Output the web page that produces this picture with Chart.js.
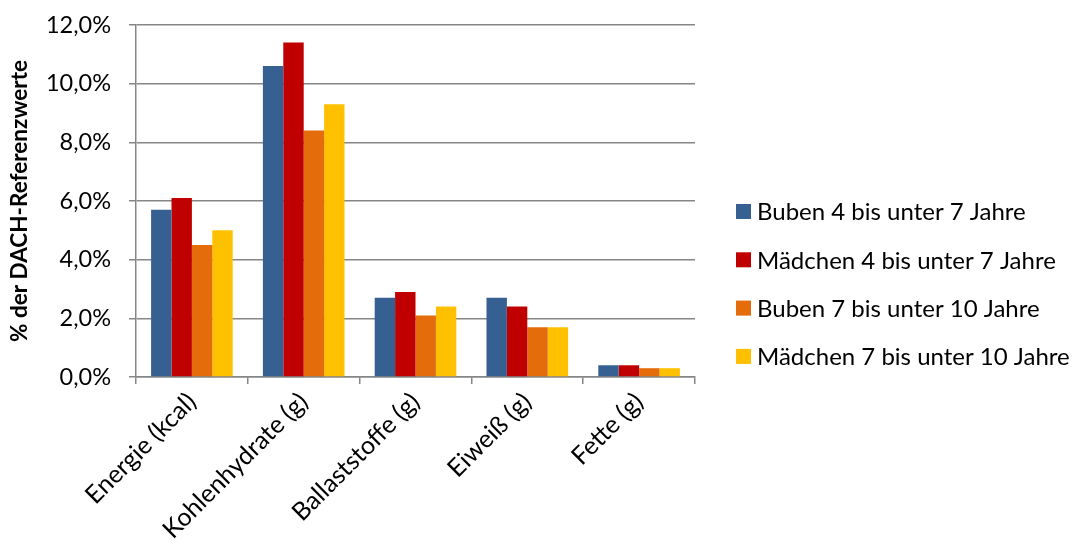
<!DOCTYPE html>
<html>
<head>
<meta charset="utf-8">
<script src="https://cdn.jsdelivr.net/npm/chart.js@4/dist/chart.umd.min.js"></script>
<style>
  html, body { margin: 0; padding: 0; background: #fff; }
  #wrap { width: 1082px; height: 547px; }
</style>
</head>
<body>
<div id="wrap"><canvas id="chart" width="1082" height="547"></canvas></div>
<script>
const categories = ["Energie (kcal)", "Kohlenhydrate (g)", "Ballaststoffe (g)", "Eiweiß (g)", "Fette (g)"];
const seriesNames = [
  "Buben 4 bis unter 7 Jahre",
  "Mädchen 4 bis unter 7 Jahre",
  "Buben 7 bis unter 10 Jahre",
  "Mädchen 7 bis unter 10 Jahre"
];
const buben4 = [5.7, 10.6, 2.7, 2.7, 0.4];
const maedchen4 = [6.1, 11.4, 2.9, 2.4, 0.4];
const buben7 = [4.5, 8.4, 2.1, 1.7, 0.3];
const maedchen7 = [5.0, 9.3, 2.4, 1.7, 0.3];
const colors = ["#376092", "#C00000", "#E46C0A", "#FFC000"];

const FONT = "Lato, Calibri, 'Open Sans', sans-serif";

// legend drawn by hand so it can sit where the original has it
const sideLegend = {
  id: "sideLegend",
  afterDraw(chart) {
    const ctx = chart.ctx;
    ctx.save();
    ctx.font = "24px " + FONT;
    ctx.textBaseline = "middle";
    ctx.textAlign = "left";
    chart.data.datasets.forEach((ds, i) => {
      const cy = 211.5 + i * 48.3;
      ctx.fillStyle = ds.backgroundColor;
      ctx.fillRect(736, cy - 7.5, 15, 15);
      ctx.fillStyle = "#000";
      ctx.fillText(ds.label, 757, cy + 1);
    });
    ctx.restore();
  }
};

new Chart(document.getElementById("chart"), {
  type: "bar",
  data: {
    labels: categories,
    datasets: [buben4, maedchen4, buben7, maedchen7].map((vals, i) => ({
      label: seriesNames[i],
      data: vals,
      backgroundColor: colors[i],
      borderWidth: 0,
      categoryPercentage: 0.73,
      barPercentage: 1.0
    }))
  },
  options: {
    responsive: false,
    animation: false,
    layout: { padding: { top: 25, right: 1082 - 695, left: 0, bottom: 0 } },
    plugins: {
      legend: { display: false },
      tooltip: { enabled: false }
    },
    scales: {
      x: {
        afterFit(scale) { scale.height = 547 - 377; },
        grid: {
          display: true,
          offset: true,
          drawOnChartArea: false,
          color: "#868686",
          lineWidth: 1.5,
          tickLength: 7
        },
        border: { color: "#868686", width: 1.5 },
        ticks: {
          color: "#000",
          font: { family: FONT, size: 25 },
          minRotation: 45,
          maxRotation: 45,
          padding: 3
        }
      },
      y: {
        min: 0,
        max: 12,
        afterFit(scale) {
          scale.width = 136;
          scale.paddingTop = 0;
          scale.paddingBottom = 0;
        },
        grid: {
          color: "#868686",
          lineWidth: 1.5,
          tickLength: 7
        },
        border: { color: "#868686", width: 1.5 },
        ticks: {
          stepSize: 2,
          color: "#000",
          font: { family: FONT, size: 23.5 },
          padding: 18,
          callback: (v) => v.toFixed(1).replace(".", ",") + "%"
        },
        title: {
          display: true,
          text: "% der DACH-Referenzwerte",
          color: "#000",
          font: { family: FONT, size: 22.5, weight: "bold" },
          padding: { top: 6, bottom: 0 }
        }
      }
    }
  },
  plugins: [sideLegend]
});
</script>
</body>
</html>
